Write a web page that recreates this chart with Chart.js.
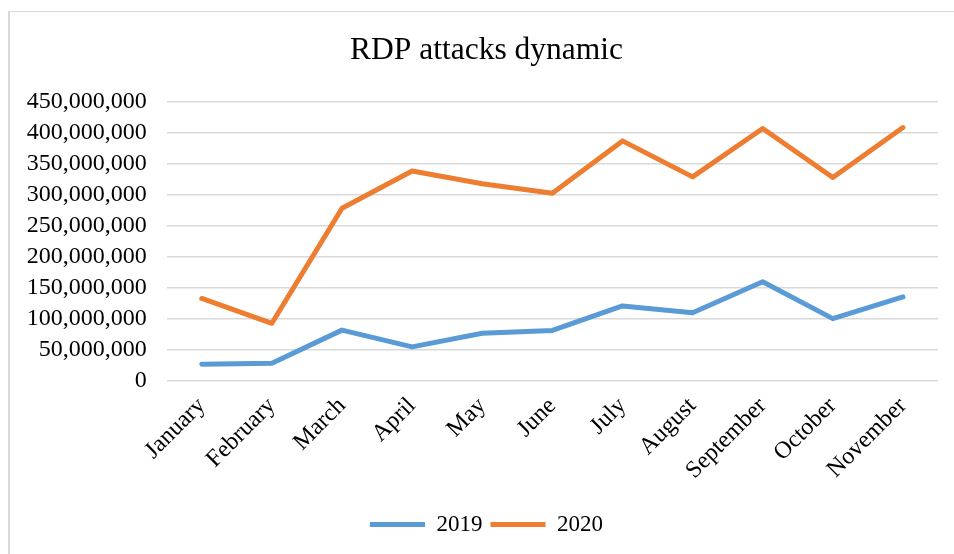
<!DOCTYPE html>
<html>
<head>
<meta charset="utf-8">
<title>RDP attacks dynamic</title>
<script src="https://cdn.jsdelivr.net/npm/chart.js@4/dist/chart.umd.min.js"></script>
<style>
  html, body { margin: 0; padding: 0; background: #fff; overflow: hidden; }
  #frame {
    position: absolute; left: 8px; top: 11px; width: 2000px; height: 2000px;
    border-left: 2px solid #d9d9d9; border-top: 1px solid #d9d9d9;
  }
  #chart { position: absolute; left: 0; top: 0; }
</style>
</head>
<body>
<div id="frame"></div>
<canvas id="chart" width="954" height="554"></canvas>
<script>
const months = ['January', 'February', 'March', 'April', 'May', 'June',
  'July', 'August', 'September', 'October', 'November'];
const attacks2019 = [27000000, 28500000, 82000000, 55000000, 77000000, 81500000,
  121000000, 110000000, 160000000, 100500000, 135500000];
const attacks2020 = [133000000, 93000000, 278500000, 338500000, 318000000, 302500000,
  387000000, 329000000, 407000000, 328000000, 408500000];
const yTicks = { min: 0, max: 450000000, step: 50000000 };

const serif = "'Liberation Serif', 'Times New Roman', serif";
const textColor = '#000000';
const gridColor = '#d9d9d9';

const lineSeries = (label, data, color) => ({
  label,
  data,
  borderColor: color,
  backgroundColor: color,
  borderWidth: 5,
  borderCapStyle: 'round',
  borderJoinStyle: 'round',
  pointRadius: 0,
  pointHoverRadius: 0,
  tension: 0,
  fill: false,
});

new Chart(document.getElementById('chart'), {
  type: 'line',
  data: {
    labels: months,
    datasets: [
      lineSeries('2019', attacks2019, '#5b9bd5'),
      lineSeries('2020', attacks2020, '#ed7d31'),
    ],
  },
  options: {
    responsive: false,
    devicePixelRatio: 1,
    animation: false,
    layout: { padding: { left: 24, right: 5, top: 22, bottom: 8 } },
    plugins: {
      tooltip: { enabled: false },
      title: {
        display: true,
        text: 'RDP attacks dynamic',
        color: textColor,
        font: { family: serif, size: 31.5, weight: 'normal' },
        padding: { top: 10, bottom: 32 },
      },
      legend: {
        position: 'bottom',
        labels: {
          color: textColor,
          font: { family: serif, size: 23 },
          usePointStyle: true,
          pointStyle: 'line',
          pointStyleWidth: 55,
          padding: 8,
        },
      },
    },
    scales: {
      x: {
        offset: true,
        grid: { display: false, drawTicks: false },
        border: { display: false },
        ticks: {
          color: textColor,
          font: { family: serif, size: 24 },
          minRotation: 45,
          maxRotation: 45,
          padding: 11,
          autoSkip: false,
        },
        afterFit: (scale) => { scale.height = 124; },
      },
      y: {
        min: yTicks.min,
        max: yTicks.max,
        grid: { color: gridColor, lineWidth: 1.5, drawTicks: false },
        border: { display: false },
        ticks: {
          stepSize: yTicks.step,
          autoSkip: false,
          color: textColor,
          font: { family: serif, size: 24 },
          padding: 20,
          callback: (v) => v.toLocaleString('en-US'),
        },
        afterFit: (scale) => { scale.width = 142.7; },
      },
      // empty strip on the right so the title and legend sit centred over the frame
      yRight: {
        position: 'right',
        grid: { display: false, drawTicks: false },
        border: { display: false },
        ticks: { display: false },
        afterFit: (scale) => { scale.width = 11; },
      },
    },
  },
});
</script>
</body>
</html>
